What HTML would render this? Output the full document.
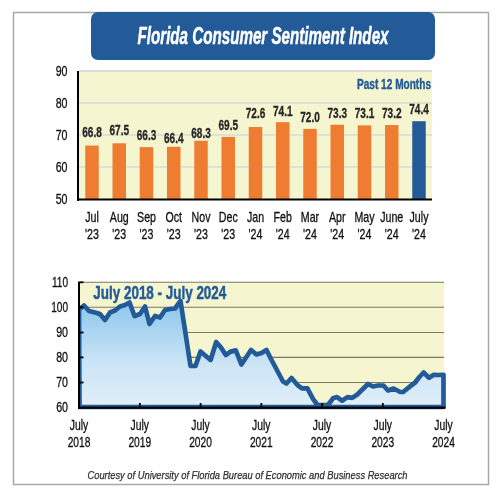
<!DOCTYPE html>
<html><head><meta charset="utf-8"><style>
html,body{margin:0;padding:0;background:#fff;width:500px;height:500px;overflow:hidden}
svg{display:block;font-family:"Liberation Sans",sans-serif;will-change:transform}
</style></head><body>
<svg width="500" height="500" viewBox="0 0 500 500">
<rect x="13.5" y="12.5" width="475" height="472" fill="#fff" stroke="#a8a8a8" stroke-width="1.5"/>
<rect x="91" y="12" width="344" height="48" rx="7" ry="7" fill="#235a98"/>
<text transform="translate(263,44) scale(1,1)" text-anchor="middle" font-size="23" font-weight="bold" font-style="italic" fill="#fff" stroke="#fff" stroke-width="0.5" textLength="251.00" lengthAdjust="spacingAndGlyphs">Florida Consumer Sentiment Index</text>
<rect x="79" y="72" width="353" height="127" fill="#f5f5cf"/>
<rect x="79" y="70" width="353" height="2" fill="#dcdcd6"/>
<rect x="79" y="102.4" width="353" height="1.2" fill="#d2d4e0"/>
<rect x="79" y="134.4" width="353" height="1.2" fill="#d2d4e0"/>
<rect x="79" y="166.4" width="353" height="1.2" fill="#d2d4e0"/>
<rect x="85.25" y="145.54" width="13.5" height="53.76" fill="#ee7d31"/>
<text transform="translate(92.0,136.9) scale(0.72,1)" text-anchor="middle" font-size="14" font-weight="bold" font-style="normal" fill="#262626" stroke="#262626" stroke-width="0.3">66.8</text>
<text transform="translate(92.0,221.5) scale(0.76,1)" text-anchor="middle" font-size="14" font-weight="normal" font-style="normal" fill="#111" stroke="#111" stroke-width="0.3">Jul</text>
<text transform="translate(92.0,238.5) scale(0.76,1)" text-anchor="middle" font-size="14" font-weight="normal" font-style="normal" fill="#111" stroke="#111" stroke-width="0.3">'23</text>
<rect x="112.50" y="143.30" width="13.5" height="56.00" fill="#ee7d31"/>
<text transform="translate(119.25,134.5) scale(0.72,1)" text-anchor="middle" font-size="14" font-weight="bold" font-style="normal" fill="#262626" stroke="#262626" stroke-width="0.3">67.5</text>
<text transform="translate(119.25,221.5) scale(0.76,1)" text-anchor="middle" font-size="14" font-weight="normal" font-style="normal" fill="#111" stroke="#111" stroke-width="0.3">Aug</text>
<text transform="translate(119.25,238.5) scale(0.76,1)" text-anchor="middle" font-size="14" font-weight="normal" font-style="normal" fill="#111" stroke="#111" stroke-width="0.3">'23</text>
<rect x="139.75" y="147.14" width="13.5" height="52.16" fill="#ee7d31"/>
<text transform="translate(146.5,139.7) scale(0.72,1)" text-anchor="middle" font-size="14" font-weight="bold" font-style="normal" fill="#262626" stroke="#262626" stroke-width="0.3">66.3</text>
<text transform="translate(146.5,221.5) scale(0.76,1)" text-anchor="middle" font-size="14" font-weight="normal" font-style="normal" fill="#111" stroke="#111" stroke-width="0.3">Sep</text>
<text transform="translate(146.5,238.5) scale(0.76,1)" text-anchor="middle" font-size="14" font-weight="normal" font-style="normal" fill="#111" stroke="#111" stroke-width="0.3">'23</text>
<rect x="167.00" y="146.82" width="13.5" height="52.48" fill="#ee7d31"/>
<text transform="translate(173.75,143.3) scale(0.72,1)" text-anchor="middle" font-size="14" font-weight="bold" font-style="normal" fill="#262626" stroke="#262626" stroke-width="0.3">66.4</text>
<text transform="translate(173.75,221.5) scale(0.76,1)" text-anchor="middle" font-size="14" font-weight="normal" font-style="normal" fill="#111" stroke="#111" stroke-width="0.3">Oct</text>
<text transform="translate(173.75,238.5) scale(0.76,1)" text-anchor="middle" font-size="14" font-weight="normal" font-style="normal" fill="#111" stroke="#111" stroke-width="0.3">'23</text>
<rect x="194.25" y="140.74" width="13.5" height="58.56" fill="#ee7d31"/>
<text transform="translate(201.0,137.7) scale(0.72,1)" text-anchor="middle" font-size="14" font-weight="bold" font-style="normal" fill="#262626" stroke="#262626" stroke-width="0.3">68.3</text>
<text transform="translate(201.0,221.5) scale(0.76,1)" text-anchor="middle" font-size="14" font-weight="normal" font-style="normal" fill="#111" stroke="#111" stroke-width="0.3">Nov</text>
<text transform="translate(201.0,238.5) scale(0.76,1)" text-anchor="middle" font-size="14" font-weight="normal" font-style="normal" fill="#111" stroke="#111" stroke-width="0.3">'23</text>
<rect x="221.50" y="136.90" width="13.5" height="62.40" fill="#ee7d31"/>
<text transform="translate(228.25,129.7) scale(0.72,1)" text-anchor="middle" font-size="14" font-weight="bold" font-style="normal" fill="#262626" stroke="#262626" stroke-width="0.3">69.5</text>
<text transform="translate(228.25,221.5) scale(0.76,1)" text-anchor="middle" font-size="14" font-weight="normal" font-style="normal" fill="#111" stroke="#111" stroke-width="0.3">Dec</text>
<text transform="translate(228.25,238.5) scale(0.76,1)" text-anchor="middle" font-size="14" font-weight="normal" font-style="normal" fill="#111" stroke="#111" stroke-width="0.3">'23</text>
<rect x="248.75" y="126.98" width="13.5" height="72.32" fill="#ee7d31"/>
<text transform="translate(255.5,118.3) scale(0.72,1)" text-anchor="middle" font-size="14" font-weight="bold" font-style="normal" fill="#262626" stroke="#262626" stroke-width="0.3">72.6</text>
<text transform="translate(255.5,221.5) scale(0.76,1)" text-anchor="middle" font-size="14" font-weight="normal" font-style="normal" fill="#111" stroke="#111" stroke-width="0.3">Jan</text>
<text transform="translate(255.5,238.5) scale(0.76,1)" text-anchor="middle" font-size="14" font-weight="normal" font-style="normal" fill="#111" stroke="#111" stroke-width="0.3">'24</text>
<rect x="276.00" y="122.18" width="13.5" height="77.12" fill="#ee7d31"/>
<text transform="translate(282.75,116.3) scale(0.72,1)" text-anchor="middle" font-size="14" font-weight="bold" font-style="normal" fill="#262626" stroke="#262626" stroke-width="0.3">74.1</text>
<text transform="translate(282.75,221.5) scale(0.76,1)" text-anchor="middle" font-size="14" font-weight="normal" font-style="normal" fill="#111" stroke="#111" stroke-width="0.3">Feb</text>
<text transform="translate(282.75,238.5) scale(0.76,1)" text-anchor="middle" font-size="14" font-weight="normal" font-style="normal" fill="#111" stroke="#111" stroke-width="0.3">'24</text>
<rect x="303.25" y="128.90" width="13.5" height="70.40" fill="#ee7d31"/>
<text transform="translate(310.0,121.7) scale(0.72,1)" text-anchor="middle" font-size="14" font-weight="bold" font-style="normal" fill="#262626" stroke="#262626" stroke-width="0.3">72.0</text>
<text transform="translate(310.0,221.5) scale(0.76,1)" text-anchor="middle" font-size="14" font-weight="normal" font-style="normal" fill="#111" stroke="#111" stroke-width="0.3">Mar</text>
<text transform="translate(310.0,238.5) scale(0.76,1)" text-anchor="middle" font-size="14" font-weight="normal" font-style="normal" fill="#111" stroke="#111" stroke-width="0.3">'24</text>
<rect x="330.50" y="124.74" width="13.5" height="74.56" fill="#ee7d31"/>
<text transform="translate(337.25,117.8) scale(0.72,1)" text-anchor="middle" font-size="14" font-weight="bold" font-style="normal" fill="#262626" stroke="#262626" stroke-width="0.3">73.3</text>
<text transform="translate(337.25,221.5) scale(0.76,1)" text-anchor="middle" font-size="14" font-weight="normal" font-style="normal" fill="#111" stroke="#111" stroke-width="0.3">Apr</text>
<text transform="translate(337.25,238.5) scale(0.76,1)" text-anchor="middle" font-size="14" font-weight="normal" font-style="normal" fill="#111" stroke="#111" stroke-width="0.3">'24</text>
<rect x="357.75" y="125.38" width="13.5" height="73.92" fill="#ee7d31"/>
<text transform="translate(364.5,118.2) scale(0.72,1)" text-anchor="middle" font-size="14" font-weight="bold" font-style="normal" fill="#262626" stroke="#262626" stroke-width="0.3">73.1</text>
<text transform="translate(364.5,221.5) scale(0.76,1)" text-anchor="middle" font-size="14" font-weight="normal" font-style="normal" fill="#111" stroke="#111" stroke-width="0.3">May</text>
<text transform="translate(364.5,238.5) scale(0.76,1)" text-anchor="middle" font-size="14" font-weight="normal" font-style="normal" fill="#111" stroke="#111" stroke-width="0.3">'24</text>
<rect x="385.00" y="125.06" width="13.5" height="74.24" fill="#ee7d31"/>
<text transform="translate(391.75,118.2) scale(0.72,1)" text-anchor="middle" font-size="14" font-weight="bold" font-style="normal" fill="#262626" stroke="#262626" stroke-width="0.3">73.2</text>
<text transform="translate(391.75,221.5) scale(0.76,1)" text-anchor="middle" font-size="14" font-weight="normal" font-style="normal" fill="#111" stroke="#111" stroke-width="0.3">June</text>
<text transform="translate(391.75,238.5) scale(0.76,1)" text-anchor="middle" font-size="14" font-weight="normal" font-style="normal" fill="#111" stroke="#111" stroke-width="0.3">'24</text>
<rect x="412.25" y="121.22" width="13.5" height="78.08" fill="#235a98"/>
<text transform="translate(419.0,114.4) scale(0.72,1)" text-anchor="middle" font-size="14" font-weight="bold" font-style="normal" fill="#262626" stroke="#262626" stroke-width="0.3">74.4</text>
<text transform="translate(419.0,221.5) scale(0.76,1)" text-anchor="middle" font-size="14" font-weight="normal" font-style="normal" fill="#111" stroke="#111" stroke-width="0.3">July</text>
<text transform="translate(419.0,238.5) scale(0.76,1)" text-anchor="middle" font-size="14" font-weight="normal" font-style="normal" fill="#111" stroke="#111" stroke-width="0.3">'24</text>
<rect x="77" y="71" width="2" height="130" fill="#000"/>
<rect x="77" y="198.5" width="355" height="2" fill="#000"/>
<text transform="translate(67.5,76) scale(0.76,1)" text-anchor="end" font-size="14" font-weight="normal" font-style="normal" fill="#111" stroke="#111" stroke-width="0.3">90</text>
<text transform="translate(67.5,108) scale(0.76,1)" text-anchor="end" font-size="14" font-weight="normal" font-style="normal" fill="#111" stroke="#111" stroke-width="0.3">80</text>
<text transform="translate(67.5,140) scale(0.76,1)" text-anchor="end" font-size="14" font-weight="normal" font-style="normal" fill="#111" stroke="#111" stroke-width="0.3">70</text>
<text transform="translate(67.5,172) scale(0.76,1)" text-anchor="end" font-size="14" font-weight="normal" font-style="normal" fill="#111" stroke="#111" stroke-width="0.3">60</text>
<text transform="translate(67.5,204) scale(0.76,1)" text-anchor="end" font-size="14" font-weight="normal" font-style="normal" fill="#111" stroke="#111" stroke-width="0.3">50</text>
<text transform="translate(431,89) scale(1,1)" text-anchor="end" font-size="14.5" font-weight="bold" font-style="normal" fill="#235a98" stroke="#235a98" stroke-width="0.4" textLength="74.00" lengthAdjust="spacingAndGlyphs">Past 12 Months</text>
<rect x="80" y="282" width="364" height="125" fill="#f5f5cf"/>
<defs><linearGradient id="ag" x1="0" y1="300" x2="0" y2="407" gradientUnits="userSpaceOnUse"><stop offset="0" stop-color="#8ac5ec"/><stop offset="0.6" stop-color="#cce5f6"/><stop offset="1" stop-color="#e0eef9"/></linearGradient></defs>
<line x1="80" y1="282.3" x2="444" y2="282.3" stroke="#7a7868" stroke-width="1.1"/>
<line x1="80" y1="307.3" x2="444" y2="307.3" stroke="#7a7868" stroke-width="1.1"/>
<line x1="80" y1="332.5" x2="444" y2="332.5" stroke="#7a7868" stroke-width="1.1"/>
<line x1="80" y1="357.4" x2="444" y2="357.4" stroke="#7a7868" stroke-width="1.1"/>
<line x1="80" y1="382.5" x2="444" y2="382.5" stroke="#7a7868" stroke-width="1.1"/>
<clipPath id="pc"><rect x="78" y="260" width="368" height="150"/></clipPath>
<polygon clip-path="url(#pc)" points="79,309.5 84,305.5 89,311 95,312.5 100,314 105,320 110,312.5 115,310.5 120,306.5 125,305 129.5,302.5 134.5,316 140,314 145,306.5 149.5,324 155,316 160,317.5 165,310 170,309 175,308.5 180.5,301 190.5,366 195.5,366 200.5,351.5 210.6,360 216.2,342 221,347.5 225.8,355 230.6,351.6 235.8,350.4 241.4,364.5 251,350 256.5,354.5 261.5,353 266.5,350 270.5,358 283,381.5 286.5,383.5 291.5,378 297.5,385 302,388.4 307.4,388.4 313,398.9 317.5,405 328,405 333,398.3 337,397.1 342.2,400.7 347.4,397.1 352.2,397.9 357,394.7 368,384 373,386.5 378,385.5 383.5,385.5 388,390.5 393.6,388.5 400.2,392 403.2,392 411,385.6 415.2,382.5 419.4,377 423.6,372.5 429,377.8 433.8,374.8 438,375 443.5,374.8 443.5,407 79.5,407" fill="url(#ag)" stroke="#235a98" stroke-width="4.7" stroke-linejoin="round"/>
<rect x="78" y="281.5" width="2" height="127" fill="#000"/>
<rect x="78" y="406.6" width="367.5" height="2.2" fill="#000"/>
<rect x="80" y="281.40000000000003" width="3.5" height="1.8" fill="#000"/>
<rect x="80" y="306.40000000000003" width="3.5" height="1.8" fill="#000"/>
<rect x="80" y="331.6" width="3.5" height="1.8" fill="#000"/>
<rect x="80" y="356.5" width="3.5" height="1.8" fill="#000"/>
<rect x="80" y="381.6" width="3.5" height="1.8" fill="#000"/>
<rect x="138.95" y="403" width="1.8" height="4" fill="#000"/>
<rect x="199.70" y="403" width="1.8" height="4" fill="#000"/>
<rect x="260.45" y="403" width="1.8" height="4" fill="#000"/>
<rect x="321.20" y="403" width="1.8" height="4" fill="#000"/>
<rect x="381.95" y="403" width="1.8" height="4" fill="#000"/>
<text transform="translate(68,287.3) scale(0.72,1)" text-anchor="end" font-size="14" font-weight="normal" font-style="normal" fill="#111" stroke="#111" stroke-width="0.3">110</text>
<text transform="translate(68,312.3) scale(0.72,1)" text-anchor="end" font-size="14" font-weight="normal" font-style="normal" fill="#111" stroke="#111" stroke-width="0.3">100</text>
<text transform="translate(68,337.3) scale(0.76,1)" text-anchor="end" font-size="14" font-weight="normal" font-style="normal" fill="#111" stroke="#111" stroke-width="0.3">90</text>
<text transform="translate(68,362.3) scale(0.76,1)" text-anchor="end" font-size="14" font-weight="normal" font-style="normal" fill="#111" stroke="#111" stroke-width="0.3">80</text>
<text transform="translate(68,387.3) scale(0.76,1)" text-anchor="end" font-size="14" font-weight="normal" font-style="normal" fill="#111" stroke="#111" stroke-width="0.3">70</text>
<text transform="translate(68,412.3) scale(0.76,1)" text-anchor="end" font-size="14" font-weight="normal" font-style="normal" fill="#111" stroke="#111" stroke-width="0.3">60</text>
<text transform="translate(79.0,430) scale(0.74,1)" text-anchor="middle" font-size="14" font-weight="normal" font-style="normal" fill="#111" stroke="#111" stroke-width="0.3">July</text>
<text transform="translate(79.0,446.5) scale(0.73,1)" text-anchor="middle" font-size="14" font-weight="normal" font-style="normal" fill="#111" stroke="#111" stroke-width="0.3">2018</text>
<text transform="translate(139.75,430) scale(0.74,1)" text-anchor="middle" font-size="14" font-weight="normal" font-style="normal" fill="#111" stroke="#111" stroke-width="0.3">July</text>
<text transform="translate(139.75,446.5) scale(0.73,1)" text-anchor="middle" font-size="14" font-weight="normal" font-style="normal" fill="#111" stroke="#111" stroke-width="0.3">2019</text>
<text transform="translate(200.5,430) scale(0.74,1)" text-anchor="middle" font-size="14" font-weight="normal" font-style="normal" fill="#111" stroke="#111" stroke-width="0.3">July</text>
<text transform="translate(200.5,446.5) scale(0.73,1)" text-anchor="middle" font-size="14" font-weight="normal" font-style="normal" fill="#111" stroke="#111" stroke-width="0.3">2020</text>
<text transform="translate(261.25,430) scale(0.74,1)" text-anchor="middle" font-size="14" font-weight="normal" font-style="normal" fill="#111" stroke="#111" stroke-width="0.3">July</text>
<text transform="translate(261.25,446.5) scale(0.73,1)" text-anchor="middle" font-size="14" font-weight="normal" font-style="normal" fill="#111" stroke="#111" stroke-width="0.3">2021</text>
<text transform="translate(322.0,430) scale(0.74,1)" text-anchor="middle" font-size="14" font-weight="normal" font-style="normal" fill="#111" stroke="#111" stroke-width="0.3">July</text>
<text transform="translate(322.0,446.5) scale(0.73,1)" text-anchor="middle" font-size="14" font-weight="normal" font-style="normal" fill="#111" stroke="#111" stroke-width="0.3">2022</text>
<text transform="translate(382.75,430) scale(0.74,1)" text-anchor="middle" font-size="14" font-weight="normal" font-style="normal" fill="#111" stroke="#111" stroke-width="0.3">July</text>
<text transform="translate(382.75,446.5) scale(0.73,1)" text-anchor="middle" font-size="14" font-weight="normal" font-style="normal" fill="#111" stroke="#111" stroke-width="0.3">2023</text>
<text transform="translate(443.5,430) scale(0.74,1)" text-anchor="middle" font-size="14" font-weight="normal" font-style="normal" fill="#111" stroke="#111" stroke-width="0.3">July</text>
<text transform="translate(443.5,446.5) scale(0.73,1)" text-anchor="middle" font-size="14" font-weight="normal" font-style="normal" fill="#111" stroke="#111" stroke-width="0.3">2024</text>
<text transform="translate(93.3,299) scale(1,1)" text-anchor="start" font-size="19" font-weight="bold" font-style="normal" fill="#235a98" stroke="#235a98" stroke-width="0.5" textLength="133.00" lengthAdjust="spacingAndGlyphs">July 2018 - July 2024</text>
<text transform="translate(247.5,479) scale(1,1)" text-anchor="middle" font-size="11.5" font-weight="normal" font-style="italic" fill="#2e2e2e" stroke="#2e2e2e" stroke-width="0.25" textLength="320.00" lengthAdjust="spacingAndGlyphs">Courtesy of University of Florida Bureau of Economic and Business Research</text>
</svg>
</body></html>
